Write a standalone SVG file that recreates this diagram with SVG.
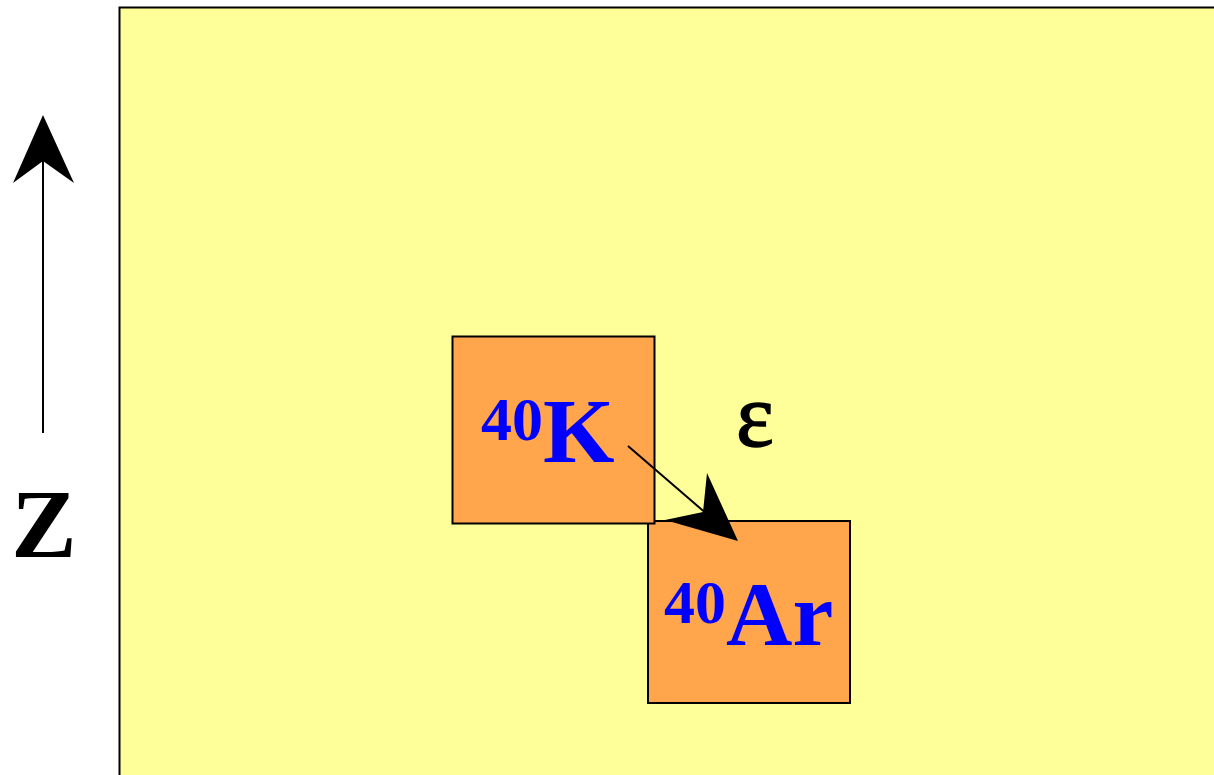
<svg xmlns="http://www.w3.org/2000/svg" width="1214" height="775" viewBox="0 0 1214 775">
<style>
.box{fill:#FFA54B;stroke:#000;stroke-width:2}
.iso{font-family:"Liberation Serif",serif;font-weight:bold;fill:#0000FF}
.lbl{font-family:"Liberation Serif",serif;fill:#000}
</style>
<rect width="1214" height="775" fill="#fff"/>
<rect id="background" x="119.5" y="7.5" width="1100" height="780" fill="#FFFF99" stroke="#000" stroke-width="2"/>
<g id="axis">
<line x1="43" y1="433" x2="43" y2="160" stroke="#000" stroke-width="2"/>
<polygon points="43,115 74,183 43,161 13,183" fill="#000"/>
<text class="lbl" x="44" y="557" font-size="98" font-weight="bold" text-anchor="middle">Z</text>
</g>
<g id="node-ar">
<rect class="box" x="648" y="521" width="202" height="182"/>
<text class="iso" x="664" y="645"><tspan font-size="62" dy="-22">40</tspan><tspan font-size="92" dy="22">Ar</tspan></text>
</g>
<g id="node-k">
<rect class="box" x="452.5" y="336.5" width="202" height="187"/>
<text class="iso" x="481" y="462"><tspan font-size="62" dy="-22">40</tspan><tspan font-size="92" dy="22">K</tspan></text>
</g>
<g id="connectors">
<line x1="628" y1="446" x2="708" y2="515" stroke="#000" stroke-width="2"/>
<polygon points="738,541 665,520 703,512 707,473" fill="#000"/>
</g>
<text id="label-epsilon" class="lbl" x="736" y="446" font-size="90" stroke="#000" stroke-width="1.5">ε</text>
</svg>
